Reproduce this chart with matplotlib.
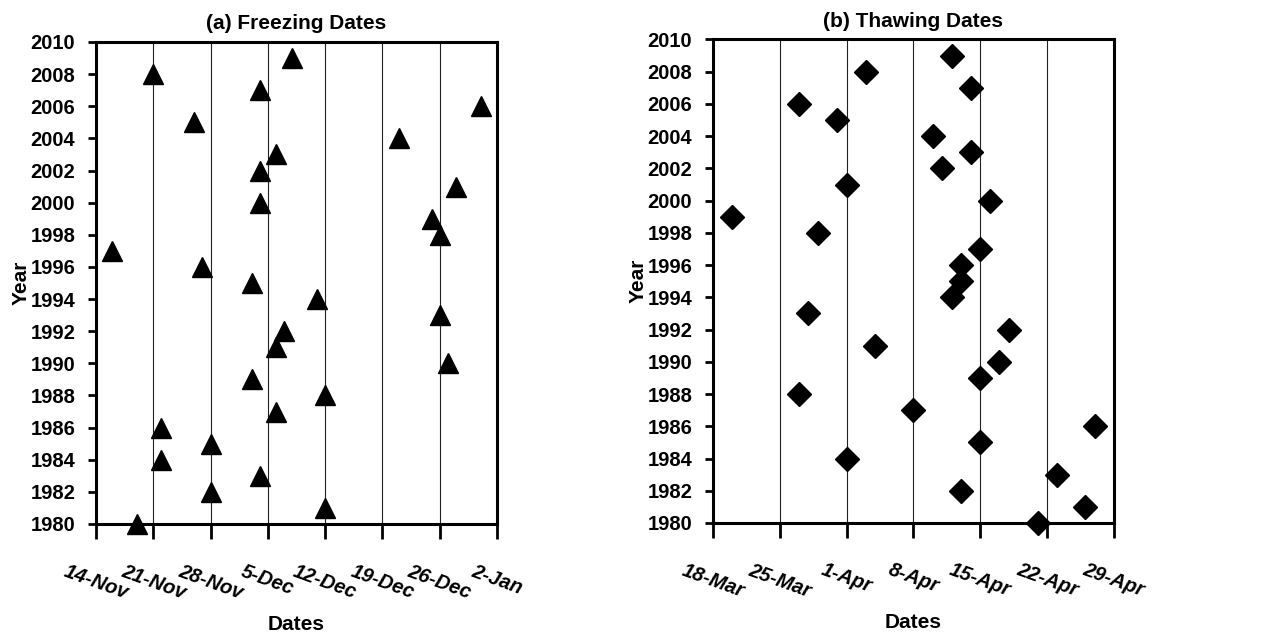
import datetime as dt
import matplotlib
matplotlib.use("Agg")
import matplotlib.pyplot as plt
import matplotlib.dates as mdates
from matplotlib.ticker import FuncFormatter

plt.rcParams['font.family'] = ['Liberation Sans Narrow', 'Liberation Sans', 'DejaVu Sans']
plt.rcParams['font.weight'] = 'bold'

years = list(range(1980, 2010))

# freezing dates (Nov/Dec, 2-Jan used only as axis end)
freeze_dates = ["19-Nov", "12-Dec", "28-Nov", "4-Dec", "22-Nov", "28-Nov", "22-Nov", "6-Dec",
                "12-Dec", "3-Dec", "27-Dec", "6-Dec", "7-Dec", "26-Dec", "11-Dec", "3-Dec",
                "27-Nov", "16-Nov", "26-Dec", "25-Dec", "4-Dec", "28-Dec", "4-Dec", "6-Dec",
                "21-Dec", "26-Nov", "31-Dec", "4-Dec", "21-Nov", "8-Dec"]

# thawing dates (Mar/Apr)
thaw_dates = ["21-Apr", "26-Apr", "13-Apr", "23-Apr", "1-Apr", "15-Apr", "27-Apr", "8-Apr",
              "27-Mar", "15-Apr", "17-Apr", "4-Apr", "18-Apr", "28-Mar", "12-Apr", "13-Apr",
              "13-Apr", "15-Apr", "29-Mar", "20-Mar", "16-Apr", "1-Apr", "11-Apr", "14-Apr",
              "10-Apr", "31-Mar", "27-Mar", "14-Apr", "3-Apr", "12-Apr"]

freeze_range = ("14-Nov", "2-Jan")
thaw_range = ("18-Mar", "29-Apr")


def to_date(s, season):
    d = dt.datetime.strptime(s, "%d-%b")
    # freezing season spans the new year
    if season == "freeze" and d.month < 6:
        return d.replace(year=2001)
    return d.replace(year=2000)


def day_fmt(x, pos):
    d = mdates.num2date(x)
    return f"{d.day}-{d:%b}"


fig = plt.figure(figsize=(12.62, 6.37), dpi=100)
ax1 = fig.add_axes([0.0761, 0.1774, 0.3177, 0.7567])
ax2 = fig.add_axes([0.5650, 0.1790, 0.3177, 0.7590])

panels = [
    (ax1, freeze_dates, freeze_range, "freeze", "^", 15, "(a) Freezing Dates"),
    (ax2, thaw_dates, thaw_range, "thaw", "D", 12, "(b) Thawing Dates"),
]

for ax, dates, rng, season, mk, ms, title in panels:
    xs = [to_date(s, season) for s in dates]
    ax.plot(xs, years, linestyle='none', marker=mk, markersize=ms,
            color='black', clip_on=False, zorder=5)

    start = to_date(rng[0], season)
    end = to_date(rng[1], season)
    ax.set_xlim(start, end)
    ax.set_ylim(1980, 2010)

    ticks = mdates.drange(start, end + dt.timedelta(days=1), dt.timedelta(days=7))
    ax.set_xticks(ticks)
    ax.xaxis.set_major_formatter(FuncFormatter(day_fmt))
    ax.set_yticks(range(1980, 2011, 2))

    ax.grid(axis='x', color='#222222', linewidth=0.8)
    ax.set_axisbelow(True)

    for sp in ax.spines.values():
        sp.set_linewidth(2.2)

    ax.tick_params(axis='x', direction='out', length=11, width=2, pad=16)
    ax.tick_params(axis='y', direction='out', length=6, width=2, labelsize=14.5, pad=9)
    for lab in ax.get_xticklabels():
        lab.set_rotation(-20)
        lab.set_ha('center')
        lab.set_va('top')
        lab.set_style('italic')
        lab.set_fontweight('bold')
        lab.set_fontsize(14.5)
    for lab in ax.get_yticklabels():
        lab.set_fontweight('bold')

    ax.set_title(title, fontsize=15, fontweight='bold', pad=9)
    ax.set_xlabel("Dates", fontsize=15, fontweight='bold', labelpad=9)
    ax.set_ylabel("Year", fontsize=15, fontweight='bold', labelpad=0)

fig.savefig("out.png", dpi=100)
